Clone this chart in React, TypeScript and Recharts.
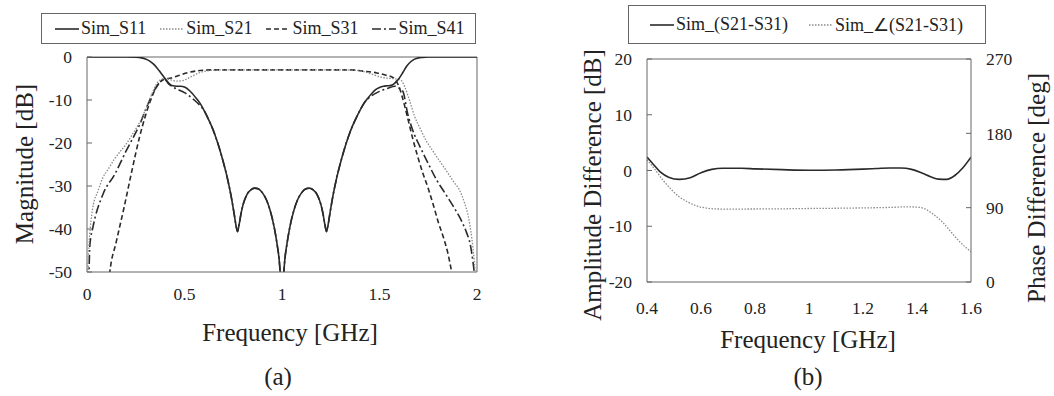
import React from "react";
import { LineChart, Line, XAxis, YAxis, ReferenceLine } from "recharts";

// (a) S-parameter magnitudes
const FREQ_S11 = [0, 0.1, 0.2, 0.25, 0.28, 0.3, 0.32, 0.34, 0.36, 0.38, 0.4, 0.42, 0.44, 0.46, 0.48, 0.5, 0.52, 0.54, 0.56, 0.58, 0.6, 0.62, 0.64, 0.66, 0.68, 0.7, 0.72, 0.74, 0.755, 0.765, 0.772, 0.78, 0.79, 0.8, 0.82, 0.84, 0.86, 0.88, 0.9, 0.92, 0.94, 0.96, 0.975, 0.988, 0.996, 1.0, 1.004, 1.012, 1.025, 1.04, 1.06, 1.08, 1.1, 1.12, 1.14, 1.16, 1.18, 1.2, 1.21, 1.22, 1.228, 1.235, 1.245, 1.26, 1.28, 1.3, 1.32, 1.34, 1.36, 1.38, 1.4, 1.42, 1.44, 1.46, 1.48, 1.5, 1.52, 1.54, 1.56, 1.58, 1.6, 1.62, 1.64, 1.66, 1.68, 1.7, 1.72, 1.75, 2];
const S11 = [0, 0, 0, -0.05, -0.2, -0.45, -0.9, -1.6, -2.6, -3.8, -5.0, -6.1, -6.7, -6.8, -6.8, -7.0, -7.6, -8.5, -9.6, -10.8, -12.4, -14.2, -16.2, -18.6, -21.4, -24.6, -28.2, -32.6, -36.6, -39.4, -40.6, -39, -36.4, -34.4, -32, -30.9, -30.5, -30.7, -31.6, -33.2, -35.8, -39.6, -43.6, -48.5, -55, -65, -55, -48.5, -43.6, -39.6, -35.8, -33.2, -31.6, -30.7, -30.5, -30.9, -32, -34.4, -36.4, -39, -40.6, -39.4, -36.6, -32.6, -28.2, -24.6, -21.4, -18.6, -16.2, -14.2, -12.4, -10.8, -9.6, -8.5, -7.6, -7.1, -6.8, -6.7, -6.6, -6.0, -5.0, -3.6, -2.1, -1.1, -0.5, -0.2, -0.08, 0, 0];

const FREQ_S21 = [0, 0.005, 0.01, 0.017, 0.03, 0.056, 0.08, 0.11, 0.14, 0.17, 0.2, 0.23, 0.26, 0.28, 0.3, 0.32, 0.34, 0.36, 0.38, 0.4, 0.43, 0.46, 0.49, 0.52, 0.55, 0.58, 0.62, 0.66, 0.7, 1.3, 1.36, 1.42, 1.46, 1.5, 1.54, 1.58, 1.61, 1.63, 1.656, 1.68, 1.708, 1.74, 1.776, 1.81, 1.845, 1.88, 1.913, 1.935, 1.955, 1.973, 1.985, 1.99, 2];
const S21 = [-60, -50, -44, -39.7, -35, -31.2, -28.2, -26, -23.8, -22, -20.3, -18.2, -16, -14.3, -12.2, -10, -7.8, -6, -5.2, -5.0, -5.3, -5.6, -5.5, -4.9, -4.2, -3.6, -3.2, -3.05, -3.0, -3.0, -3.05, -3.4, -4.0, -4.6, -4.9, -5.1, -5.4, -7, -10.4, -13.8, -16.6, -19.5, -22, -24.3, -26.6, -29, -31.2, -33.8, -37, -42, -47, -50, -60];

const FREQ_S31 = [0.1, 0.117, 0.15, 0.19, 0.23, 0.27, 0.3, 0.32, 0.34, 0.36, 0.38, 0.4, 0.43, 0.47, 0.52, 0.58, 0.65, 1.35, 1.42, 1.486, 1.53, 1.57, 1.6, 1.615, 1.628, 1.65, 1.67, 1.695, 1.72, 1.75, 1.776, 1.8, 1.828, 1.85, 1.87, 1.9];
const S31 = [-58, -50, -43, -35, -26.5, -18.5, -13.6, -10.8, -8.5, -6.7, -5.6, -5.1, -4.9, -4.3, -3.6, -3.15, -3.0, -3.0, -3.3, -3.7, -4.2, -4.8, -6.9, -9, -11.2, -15.2, -18.9, -23, -26.7, -30.6, -34.4, -38.2, -42, -45.5, -50, -58];

const FREQ_S41 = [0, 0.01, 0.015, 0.03, 0.082, 0.142, 0.2, 0.27, 0.32, 0.364, 0.398, 0.42, 0.45, 0.5, 0.55, 0.58, 0.6, 0.62, 0.64, 0.66, 0.68, 0.7, 0.72, 0.74, 0.755, 0.765, 0.772, 0.78, 0.79, 0.8, 0.82, 0.84, 0.86, 0.88, 0.9, 0.92, 0.94, 0.96, 0.975, 0.988, 0.996, 1.0, 1.004, 1.012, 1.025, 1.04, 1.06, 1.08, 1.1, 1.12, 1.14, 1.16, 1.18, 1.2, 1.21, 1.22, 1.228, 1.235, 1.245, 1.26, 1.28, 1.3, 1.32, 1.34, 1.36, 1.38, 1.4, 1.42, 1.46, 1.5, 1.54, 1.58, 1.6, 1.62, 1.645, 1.67, 1.708, 1.75, 1.793, 1.835, 1.878, 1.915, 1.947, 1.965, 1.98, 1.99, 2];
const S41 = [-60, -50, -43.6, -39.7, -31.9, -27.3, -21.9, -15.7, -10.2, -6.4, -5.2, -6.3, -7.2, -8.3, -10, -11.3, -12.4, -14.2, -16.2, -18.6, -21.4, -24.6, -28.2, -32.6, -36.6, -39.4, -40.6, -39, -36.4, -34.4, -32, -30.9, -30.5, -30.7, -31.6, -33.2, -35.8, -39.6, -43.6, -48.5, -55, -65, -55, -48.5, -43.6, -39.6, -35.8, -33.2, -31.6, -30.7, -30.5, -30.9, -32, -34.4, -36.4, -39, -40.6, -39.4, -36.6, -32.6, -28.2, -24.6, -21.4, -18.6, -16.2, -14.2, -12.4, -10.8, -9.0, -8.0, -7.3, -6.8, -7.2, -8, -13.3, -17, -20.9, -24.8, -28.6, -31.6, -34.7, -37.6, -40.9, -43.5, -47.9, -52, -60];

// (b) amplitude / phase difference
const FREQ_AMP = [0.4, 0.42, 0.45, 0.48, 0.52, 0.56, 0.6, 0.64, 0.68, 0.75, 0.8, 0.9, 1.0, 1.1, 1.2, 1.25, 1.3, 1.34, 1.38, 1.42, 1.45, 1.48, 1.51, 1.54, 1.57, 1.6];
const AMP = [2.4, 1.3, -0.3, -1.2, -1.6, -1.3, -0.4, 0.2, 0.4, 0.4, 0.3, 0.15, 0.05, 0.1, 0.25, 0.35, 0.45, 0.45, 0.2, -0.5, -1.1, -1.55, -1.6, -0.9, 0.5, 2.4];
const FREQ_PHASE = [0.4, 0.43, 0.46, 0.49, 0.52, 0.55, 0.58, 0.62, 0.66, 0.7, 0.8, 0.9, 1.0, 1.1, 1.2, 1.3, 1.36, 1.4, 1.43, 1.46, 1.49, 1.52, 1.55, 1.58, 1.6];
const PHASE = [148, 136, 123, 112, 103, 97, 92.5, 89.5, 88.4, 88.3, 88.4, 88.6, 89, 89.3, 89.7, 90.3, 91, 90.6, 88.5, 82, 74, 63, 51.5, 42, 36.7];

const TICKS_A_X = [0, 0.5, 1, 1.5, 2];
const TICKS_A_Y = [-50, -40, -30, -20, -10, 0];
const TICKS_B_X = [0.4, 0.6, 0.8, 1, 1.2, 1.4, 1.6];
const TICKS_B_L = [-20, -10, 0, 10, 20];
const TICKS_B_R = [0, 90, 180, 270];

const toPts = (xs: number[], ys: number[]) => xs.map((f, i) => ({ f, v: ys[i] }));

const FONT = "'Liberation Serif', 'Times New Roman', Times, serif";
const AXIS = "#666";
const INK = "#2a2a2a";
const GREY = "#8a8a8a";
const tickStyle = { fontSize: 17.5, fill: "#222", style: { fontFamily: FONT } };

const SERIES_A = [
  { name: "Sim_S11", data: toPts(FREQ_S11, S11), color: INK, dash: undefined, w: 1.6 },
  { name: "Sim_S21", data: toPts(FREQ_S21, S21), color: GREY, dash: "1.5 1.5", w: 1.3 },
  { name: "Sim_S31", data: toPts(FREQ_S31, S31), color: INK, dash: "5 3", w: 1.6 },
  { name: "Sim_S41", data: toPts(FREQ_S41, S41), color: INK, dash: "9 3 2 3", w: 1.6 },
];

const SERIES_B = [
  { name: "Sim_(S21-S31)", color: INK, dash: undefined, w: 1.6 },
  { name: "Sim_\u2220(S21-S31)", color: GREY, dash: "1.5 1.5", w: 1.3 },
];

function Swatch({ color, dash, w }: { color: string; dash?: string; w: number }) {
  return (
    <svg width={24} height={10} style={{ display: "block" }}>
      <line x1={0} y1={5} x2={24} y2={5} stroke={color} strokeWidth={w} strokeDasharray={dash} />
    </svg>
  );
}

function LegendBox(props: {
  left: number; top: number; width: number; height: number; gap: number; pad: number;
  items: { name: string; color: string; dash?: string; w: number }[];
}) {
  return (
    <div
      style={{
        position: "absolute", left: props.left, top: props.top, width: props.width, height: props.height,
        border: `1.5px solid ${AXIS}`, boxSizing: "border-box", display: "flex", alignItems: "center",
        paddingLeft: props.pad, gap: props.gap, fontSize: 18, color: "#222",
      }}
    >
      {props.items.map((s) => (
        <div key={s.name} style={{ display: "flex", alignItems: "center", gap: 2, whiteSpace: "nowrap" }}>
          <Swatch color={s.color} dash={s.dash} w={s.w} />
          <span>{s.name}</span>
        </div>
      ))}
    </div>
  );
}

function Title({ x, y, text, rotate }: { x: number; y: number; text: string; rotate?: boolean }) {
  return (
    <div
      style={{
        position: "absolute", left: x, top: y, fontSize: 25, color: "#222", whiteSpace: "nowrap",
        transform: `translate(-50%, -50%)${rotate ? " rotate(-90deg)" : ""}`, lineHeight: 1,
      }}
    >
      {text}
    </div>
  );
}

export default function App() {
  return (
    <div style={{ position: "absolute", left: 0, top: 0, width: 1054, height: 396, background: "#fff", fontFamily: FONT, overflow: "hidden" }}>
      <style>{`.recharts-text, .recharts-cartesian-axis-tick-value { font-family: ${FONT}; }`}</style>
      {/* (a) */}
      <div style={{ position: "absolute", left: 0, top: 0 }}>
        <LineChart width={500} height={320} margin={{ top: 57, right: 23, bottom: 20, left: 47 }}>
          <XAxis
            dataKey="f" type="number" domain={[0, 2]} ticks={TICKS_A_X} allowDataOverflow
            stroke={AXIS} tickLine={false} tickSize={0} tickMargin={16} height={28} tick={tickStyle}
          />
          <YAxis
            type="number" domain={[-50, 0]} ticks={TICKS_A_Y} allowDataOverflow width={40}
            stroke={AXIS} tickSize={-5} tickMargin={20} tick={tickStyle}
          />
          <ReferenceLine y={0} stroke={AXIS} />
          <ReferenceLine x={2} stroke={AXIS} />
          {[...SERIES_A].reverse().map((s) => (
            <Line
              key={s.name} data={s.data} dataKey="v" type="monotone" stroke={s.color}
              strokeWidth={s.w} strokeDasharray={s.dash} dot={false} isAnimationActive={false}
            />
          ))}
        </LineChart>
      </div>
      <LegendBox left={41} top={13} width={435} height={31} gap={14} pad={13} items={SERIES_A} />
      <Title x={24} y={164} text="Magnitude [dB]" rotate />
      <Title x={290} y={332} text="Frequency [GHz]" />
      <Title x={278} y={376} text="(a)" />

      {/* (b) */}
      <div style={{ position: "absolute", left: 560, top: 0 }}>
        <LineChart width={494} height={330} margin={{ top: 59, right: 43, bottom: 0, left: 47 }}>
          <XAxis
            dataKey="f" type="number" domain={[0.4, 1.6]} ticks={TICKS_B_X} allowDataOverflow
            stroke={AXIS} tickLine={false} tickSize={0} tickMargin={20} height={48} tick={tickStyle}
          />
          <YAxis
            yAxisId="l" type="number" domain={[-20, 20]} ticks={TICKS_B_L} allowDataOverflow width={40}
            stroke={AXIS} tickSize={-5} tickMargin={20} tick={tickStyle}
          />
          <YAxis
            yAxisId="r" orientation="right" type="number" domain={[0, 270]} ticks={TICKS_B_R} allowDataOverflow width={40}
            stroke={AXIS} tickSize={-5} tickMargin={20} tick={tickStyle}
          />
          <ReferenceLine yAxisId="l" y={20} stroke={AXIS} />
          <Line
            yAxisId="r" data={toPts(FREQ_PHASE, PHASE)} dataKey="v" type="monotone" stroke={SERIES_B[1].color}
            strokeWidth={SERIES_B[1].w} strokeDasharray={SERIES_B[1].dash} dot={false} isAnimationActive={false}
          />
          <Line
            yAxisId="l" data={toPts(FREQ_AMP, AMP)} dataKey="v" type="monotone" stroke={SERIES_B[0].color}
            strokeWidth={SERIES_B[0].w} dot={false} isAnimationActive={false}
          />
        </LineChart>
      </div>
      <LegendBox left={628} top={5} width={358} height={39} gap={21} pad={21} items={SERIES_B} />
      <Title x={592} y={185} text="Amplitude Difference [dB]" rotate />
      <Title x={1036} y={188} text="Phase Difference [deg]" rotate />
      <Title x={808} y={339} text="Frequency [GHz]" />
      <Title x={808} y={376} text="(b)" />
    </div>
  );
}
